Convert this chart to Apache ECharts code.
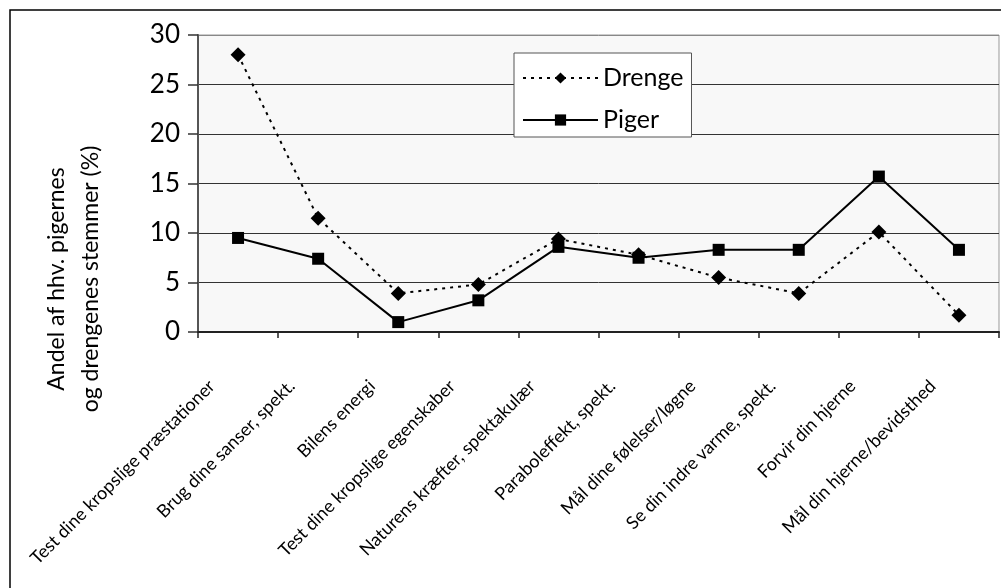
<!DOCTYPE html>
<html>
<head>
<meta charset="utf-8">
<script src="https://cdn.jsdelivr.net/npm/echarts@6/dist/echarts.min.js"></script>
<style>
html,body{margin:0;padding:0;background:#fff;}
#chart{width:1001px;height:588px;}
</style>
</head>
<body>
<div id="chart"></div>
<script>
var categories = [
  "Test dine kropslige præstationer",
  "Brug dine sanser, spekt.",
  "Bilens energi",
  "Test dine kropslige egenskaber",
  "Naturens kræfter, spektakulær",
  "Paraboleffekt, spekt.",
  "Mål dine følelser/løgne",
  "Se din indre varme, spekt.",
  "Forvir din hjerne",
  "Mål din hjerne/bevidsthed"
];
var drenge = [28.0, 11.5, 3.9, 4.8, 9.4, 7.8, 5.5, 3.9, 10.1, 1.7];
var piger  = [9.5, 7.4, 1.0, 3.2, 8.6, 7.5, 8.3, 8.3, 15.7, 8.3];
var yTitleLines = ["Andel af hhv. pigernes", "og drengenes stemmer (%)"];

var FONT = "Lato, 'Noto Sans', sans-serif";
var chart = echarts.init(document.getElementById('chart'), null, {renderer: 'canvas'});
chart.setOption({
  animation: false,
  backgroundColor: '#fff',
  graphic: [
    {type: 'rect', z: -10, silent: true, shape: {x: 10, y: 10, width: 1200, height: 900},
     style: {fill: 'none', stroke: '#000', lineWidth: 1.5}},
    {type: 'text', x: 74, y: 279, rotation: Math.PI / 2,
     style: {text: yTitleLines.join('\n'), font: "23px " + FONT, fill: '#000',
             align: 'center', verticalAlign: 'middle', lineHeight: 34}}
  ],
  grid: {left: 198, right: 2, top: 35, bottom: 256, show: true,
         backgroundColor: '#f8f8f8', borderColor: '#999', borderWidth: 1},
  legend: {
    orient: 'vertical', left: 514, top: 53,
    data: ['Drenge', 'Piger'],
    itemWidth: 75, itemHeight: 14, itemGap: 14,
    padding: [11, 8, 3, 8],
    backgroundColor: '#fff', borderColor: '#555', borderWidth: 1,
    textStyle: {fontSize: 25, lineHeight: 28, fontFamily: FONT, color: '#000'}
  },
  xAxis: {
    type: 'category', data: categories,
    axisLine: {lineStyle: {color: '#222', width: 2}},
    axisTick: {show: true, length: 6, lineStyle: {color: '#222', width: 1.5}},
    axisLabel: {rotate: 45, interval: 0, margin: 25, fontSize: 18, fontFamily: FONT,
                color: '#000', padding: [0, 37, 0, 0]},
    splitLine: {show: false}
  },
  yAxis: {
    type: 'value', min: 0, max: 30, interval: 5,
    axisLine: {show: true, lineStyle: {color: '#555', width: 2}},
    axisTick: {show: true, length: 10, lineStyle: {color: '#333', width: 1.5}},
    axisLabel: {margin: 18, fontSize: 26, fontFamily: FONT, color: '#000'},
    splitLine: {show: true, lineStyle: {color: ['#333', '#333', '#333', '#333', '#333', '#333', '#888'], width: 1}}
  },
  series: [
    {name: 'Drenge', type: 'line', data: drenge, symbol: 'diamond', symbolSize: 15,
     itemStyle: {color: '#000'}, lineStyle: {color: '#000', width: 2, type: [3, 5]}, z: 3},
    {name: 'Piger', type: 'line', data: piger, symbol: 'rect', symbolSize: 12,
     itemStyle: {color: '#000'}, lineStyle: {color: '#000', width: 2}, z: 2}
  ]
});
</script>
</body>
</html>
